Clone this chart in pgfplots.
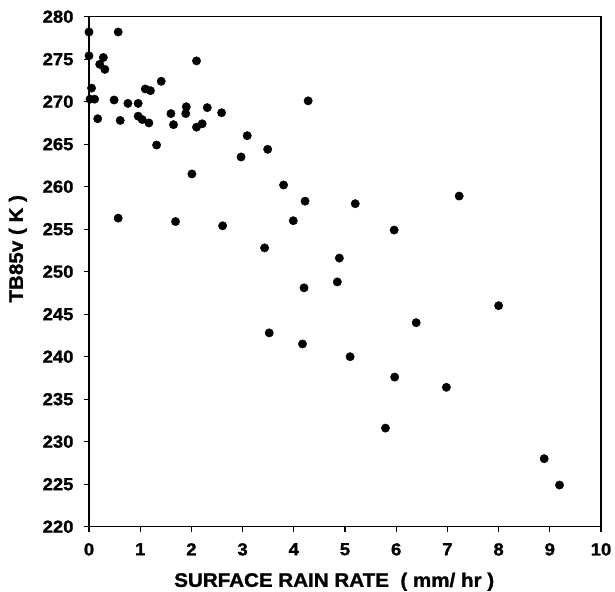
\documentclass[border=0pt]{standalone}
\usepackage{pgfplots}
\pgfplotsset{compat=1.18}
\usepackage{fontspec}
\setmainfont{Liberation Sans}
\newfontfamily\heavy{Liberation Sans Bold}[FakeBold=1.3, FakeStretch=1.06]
\begin{document}
\begin{tikzpicture}
\path[use as bounding box] (-89bp,-65bp) rectangle (526bp,526.7bp);
\begin{axis}[
  at={(0,0)}, anchor=south west,
  width=512bp, height=510bp, scale only axis,
  xmin=0, xmax=10, ymin=220, ymax=280,
  xtick={0,1,...,10}, ytick={220,225,...,280},
  axis line style={line width=1.4bp},
  tick style={line width=1.2bp, black},
  tick align=outside, major tick length=5bp,
  xtick pos=bottom, ytick pos=left,
  /pgf/number format/assume math mode=true,
  ticklabel style={font=\fontsize{17.5}{17.5}\heavy},
  yticklabel style={xshift=-7bp},
  xticklabel style={yshift=-8bp},
  label style={font=\fontsize{19.5}{20}\heavy},
  xlabel={SURFACE RAIN RATE \ ( mm/ hr )},
  ylabel={TB85v ( K )},
  xlabel style={at={(axis description cs:0.479,-0.108)}, anchor=center},
  ylabel style={at={(axis description cs:-0.139,0.545)}, anchor=center},
]
\addplot[only marks, mark=*, mark size=4.2bp, black] coordinates {
(0,278.2) (0.57,278.2) (0,275.4) (0.28,275.2) (0.21,274.4) (0.31,273.8)
(2.10,274.8) (0.05,271.6) (0.02,270.3) (0.11,270.3) (0.49,270.2) (1.41,272.4)
(1.10,271.5) (1.20,271.3) (0.76,269.8) (0.96,269.8) (0.17,268.0) (0.61,267.8)
(0.96,268.3) (1.04,267.9) (1.17,267.5) (1.60,268.6) (1.65,267.3) (1.90,269.4)
(1.89,268.6) (2.31,269.3) (2.10,267.0) (2.21,267.4) (2.59,268.7) (1.32,264.9)
(3.09,266.0) (2.97,263.5) (3.49,264.4) (2.01,261.5) (0.57,256.3) (1.69,255.9)
(2.61,255.4) (3.43,252.8) (3.52,242.8) (4.28,270.1) (3.80,260.2) (4.22,258.3)
(3.99,256.0) (5.20,258.0) (7.23,258.9) (5.96,254.9) (4.89,251.6) (4.85,248.8)
(4.20,248.1) (4.17,241.5) (5.10,240.0) (5.97,237.6) (6.39,244.0) (6.98,236.4)
(5.79,231.6) (8.0,246.0) (8.89,228.0) (9.19,224.9)
};
\end{axis}
\end{tikzpicture}
\end{document}
